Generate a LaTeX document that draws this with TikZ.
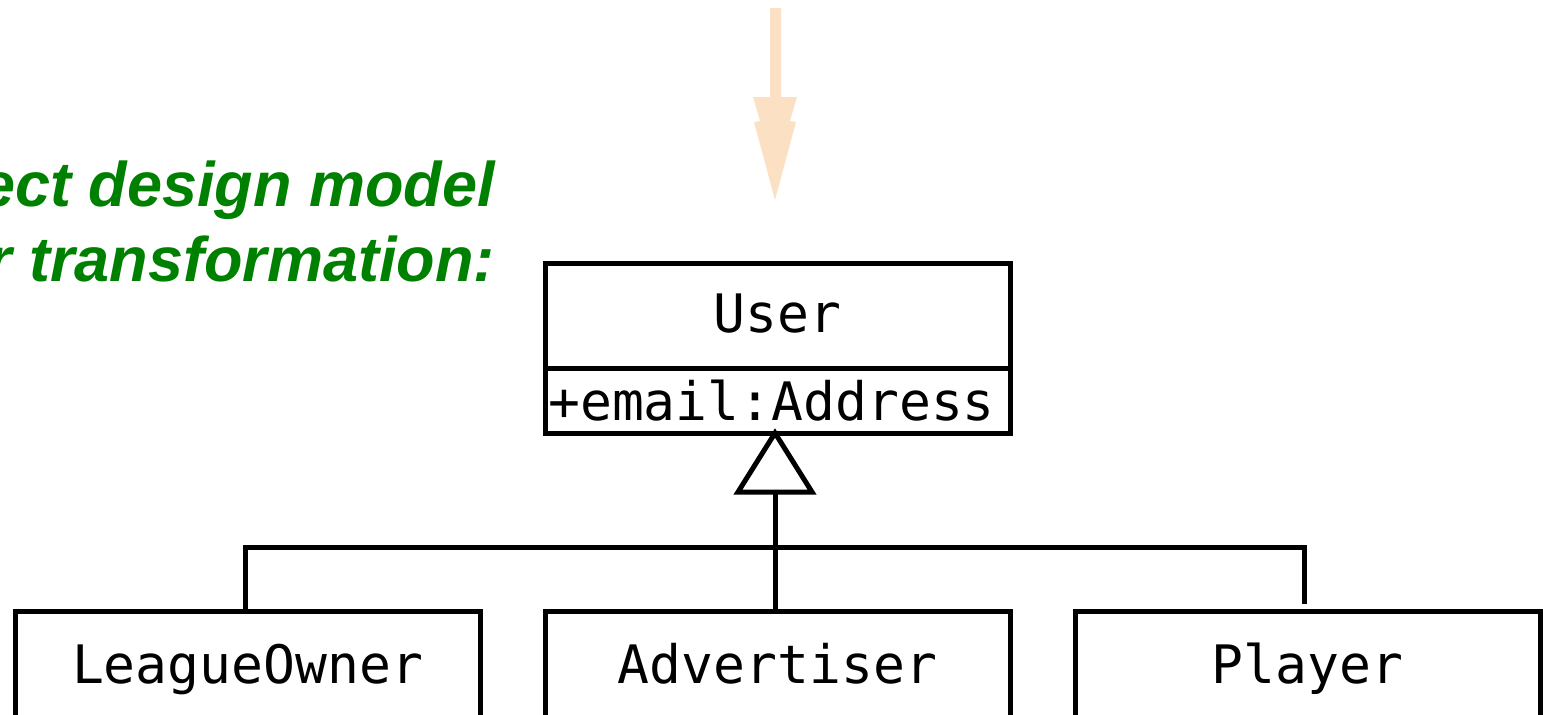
\documentclass[tikz,border=0pt]{standalone}
\usepackage{fontspec}
\newfontfamily\umlfont{DejaVu Sans Mono}
\newfontfamily\headfont{Liberation Sans}
\usetikzlibrary{calc}
\definecolor{headgreen}{HTML}{008000}
\definecolor{flowarrow}{HTML}{FBE0C4}
\tikzset{
  umltext/.style={font=\umlfont\fontsize{53}{60}\selectfont},
  classbox/.style={draw=black, line width=5pt, rectangle, inner sep=0pt, outer sep=0pt,
    umltext, text height=44pt, text depth=10pt},
  edge/.style={draw=black, line width=5pt},
  heading/.style={text=headgreen, inner sep=0pt,
    font=\headfont\bfseries\itshape\fontsize{63}{70}\selectfont},
}
\begin{document}
\begin{tikzpicture}[x=1pt, y=-1pt]
  \useasboundingbox (0,0) rectangle (1543,715);

  % transformation arrow coming in from above
  \fill[flowarrow] (770,8) -- (781,8) -- (781,97) -- (797,97) -- (790,121)
    -- (796,122) -- (775,200) -- (754,122) -- (760,121) -- (753,97)
    -- (770,97) -- cycle;

  % heading
  \node[heading, anchor=base east] (h1) at (495,206) {ect design model};
  \node[heading, anchor=base east] (h2) at (495,281) {r transformation:};

  % superclass
  \node[classbox, minimum width=465pt, minimum height=105pt] (user) at (777.5,315.5) {User};
  \node[classbox, minimum width=465pt, minimum height=65pt, anchor=north] (attr) at (user.south) {};
  \node[umltext, anchor=west, inner sep=0pt] (attrtext)
    at ([xshift=3pt]attr.west) {+email:Address};

  % subclasses
  \node[classbox, minimum width=465pt, minimum height=110pt] (lo) at (247.5,666) {LeagueOwner};
  \node[classbox, minimum width=465pt, minimum height=110pt] (adv) at (777.5,666) {Advertiser};
  \node[classbox, minimum width=465pt, minimum height=110pt] (pl) at (1307.5,666) {Player};

  % generalization
  \coordinate (tb) at (775,492);
  \coordinate (bus) at (775,547);
  \draw[edge, line join=miter] ($(tb)+(-37,0)$) -- ([xshift=-2.5pt]attr.south) -- ($(tb)+(37,0)$) -- cycle;
  \draw[edge] (tb) -- ([xshift=-2.5pt]adv.north);
  \draw[edge] ([xshift=-2.5pt]lo.north) -- ([xshift=-2.5pt]lo.north |- bus)
    -- ([xshift=-3.5pt]pl.north |- bus) -- ([xshift=-3.5pt,yshift=7pt]pl.north);
\end{tikzpicture}
\end{document}
